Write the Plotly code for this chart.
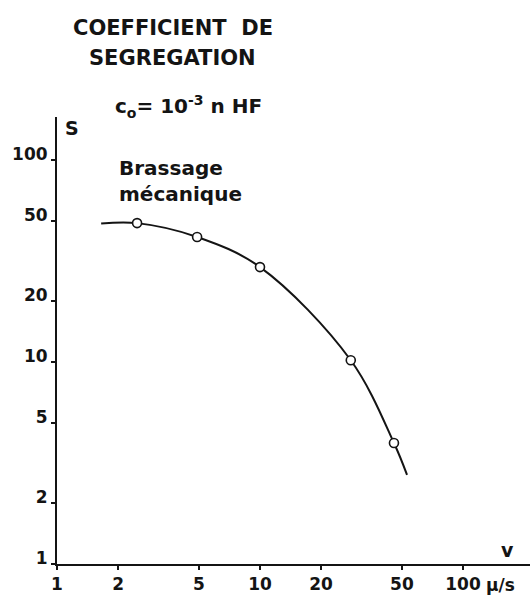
import plotly.graph_objects as go

# measured data points (v in µm/s, S)
v_points = [2.48, 4.9, 10.0, 28.0, 45.7]
s_points = [48.7, 41.6, 29.5, 10.2, 3.97]

# hand-drawn fitted curve
v_curve = [1.65, 2.48, 4.9, 10.0, 28.0, 45.7, 53.0]
s_curve = [48.5, 48.7, 41.6, 29.5, 10.2, 3.97, 2.76]

tick_vals = [1, 2, 5, 10, 20, 50, 100]
tick_text = ["1", "2", "5", "10", "20", "50", "100"]

FONT = "DejaVu Sans"
INK = "#141414"

L, R, T, B = 57, 530, 117, 564  # plot area in pixels

fig = go.Figure()
fig.add_trace(go.Scatter(
    x=v_curve, y=s_curve, mode="lines",
    line=dict(color=INK, width=2, shape="spline", smoothing=1.0),
    hoverinfo="skip", showlegend=False,
))
fig.add_trace(go.Scatter(
    x=v_points, y=s_points, mode="markers",
    marker=dict(size=9, color="white", line=dict(color=INK, width=1.6)),
    showlegend=False,
))

fig.update_layout(
    width=531, height=596,
    margin=dict(l=L, r=531 - R, t=T, b=596 - B, autoexpand=False),
    paper_bgcolor="white", plot_bgcolor="white",
    font=dict(family=FONT, color=INK, size=18),
    showlegend=False,
)
axis_common = dict(
    type="log",
    tickvals=tick_vals, ticktext=tick_text,
    showgrid=False, zeroline=False, automargin=False,
    showline=True, linecolor=INK, linewidth=2,
    ticks="outside", ticklen=4, tickwidth=1.5, tickcolor=INK,
    tickfont=dict(size=17, family=FONT, color=INK, weight="bold"),
)
fig.update_xaxes(range=[0, (R - L) / 203], **axis_common)
fig.update_yaxes(range=[0, (B - T) / 202], ticklabelshift=-6, **axis_common)


def px(x, y):
    return (x - L) / (R - L), (B - y) / (B - T)


ann = [
    dict(text="COEFFICIENT\u00a0\u00a0DE", x=173, y=28, size=21),
    dict(text="SEGREGATION", x=172, y=58, size=21),
    dict(text="c<sub>o</sub>= 10<sup>-3</sup> n HF", x=188, y=106, size=20),
    dict(text="S", x=72, y=128, size=19),
    dict(text="v", x=507, y=550, size=19),
    dict(text="μ/s", x=500, y=585, size=17),
]
for a in ann:
    xx, yy = px(a["x"], a["y"])
    fig.add_annotation(
        text=a["text"], xref="paper", yref="paper", x=xx, y=yy,
        xanchor="center", yanchor="middle", showarrow=False,
        font=dict(size=a["size"], family=FONT, color=INK, weight="bold"),
    )
xx, yy = px(117, 181)
fig.add_annotation(
    text="Brassage<br>mécanique", xref="paper", yref="paper", x=xx, y=yy,
    xanchor="left", yanchor="middle", align="left", showarrow=False,
    font=dict(size=20, family=FONT, color=INK, weight="bold"),
)

fig.write_html(
    "out.html",
    config={"displayModeBar": False},
    post_script="document.body.style.margin='0';document.body.style.overflow='hidden';",
)
